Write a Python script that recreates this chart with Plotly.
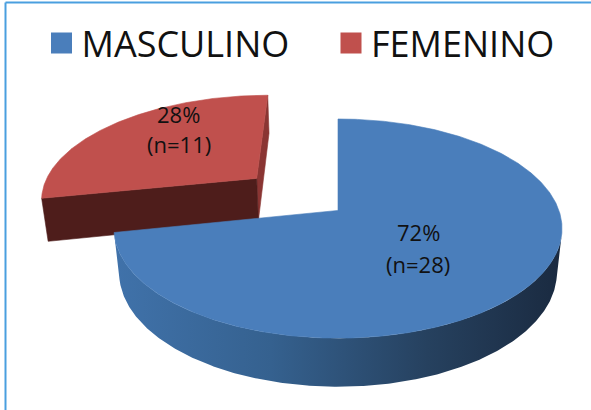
import numpy as np
import plotly.graph_objects as go

# ---------------- data ----------------
categories = ["MASCULINO", "FEMENINO"]
counts = [28, 11]

# ---------------- style / geometry constants ----------------
TOP_COLORS = ["#4a7ebb", "#c0504d"]
FACE_COLORS = ["#2c5082", "#4e1d1b"]      # front radial face colour
SLIVER_COLORS = ["#2c5082", "#8a3533"]    # back radial face colour
SIDE_SCALES = [
    [[0, "#4072aa"], [0.35, "#35618f"], [0.7, "#26415f"], [1, "#1a2a40"]],
    [[0, "#5a2220"], [1, "#3e1614"]],
]
EXPLODE = [0.0, 0.5]
LABEL_POS = [(418, 232, 264), (178.5, 113.5, 144)]  # x, y line1, y line2 (pixels)
LEGEND_X = [41.5, 331.0]                              # legend entry left positions (pixels)

EL = np.radians(31.0)   # elevation of the view
L = 5.3                 # camera distance (pie radius = 1)
H = 0.23                # pie thickness
S = 216.0               # pixels per unit
CX, CY = 338.0, 254.0   # screen position of the pie centre
W, HGT = 591, 410


def proj(X, Y, Z):
    X = np.asarray(X, float)
    Y = np.asarray(Y, float)
    Z = np.asarray(Z, float)
    d = L + Y * np.cos(EL) - Z * np.sin(EL)
    k = L / d
    sx = X * k
    sy = (Y * np.sin(EL) + Z * np.cos(EL)) * k
    return CX + S * sx, CY - S * sy


total = sum(counts)
slices = []
ang = 90.0
for i, c in enumerate(counts):
    sweep = 360.0 * c / total
    a0, a1 = ang - sweep, ang
    ang = a0
    mid = np.radians((a0 + a1) / 2)
    ex, ey = EXPLODE[i] * np.cos(mid), EXPLODE[i] * np.sin(mid)
    slices.append(dict(i=i, a0=np.radians(a0), a1=np.radians(a1), ex=ex, ey=ey))

cam = np.array([0.0, -L * np.cos(EL), L * np.sin(EL)])

fig = go.Figure()


def add_poly(xs, ys, color=None, gradient=None):
    xs = list(xs) + [xs[0]]
    ys = list(ys) + [ys[0]]
    kw = dict(x=xs, y=ys, mode="lines", fill="toself", line=dict(width=0.6, color=color or "rgba(0,0,0,0)"),
              hoverinfo="skip", showlegend=False)
    if gradient is not None:
        kw["fillgradient"] = dict(type="horizontal", colorscale=gradient)
        kw["line"] = dict(width=0)
    else:
        kw["fillcolor"] = color
    fig.add_trace(go.Scatter(**kw))


# draw farther slices first (exploded slice lies behind)
order = sorted(slices, key=lambda s: -s["ey"])
for s in order:
    i, a0, a1, ex, ey = s["i"], s["a0"], s["a1"], s["ex"], s["ey"]
    # radial faces
    for alpha, nrm in ((a0, (np.sin(a0), -np.cos(a0))), (a1, (-np.sin(a1), np.cos(a1)))):
        vis = ex * nrm[0] + (ey - cam[1]) * nrm[1]
        if vis < -1e-6:
            X = [ex, ex + np.cos(alpha), ex + np.cos(alpha), ex]
            Y = [ey, ey + np.sin(alpha), ey + np.sin(alpha), ey]
            Z = [H, H, 0, 0]
            px, py = proj(X, Y, Z)
            col = FACE_COLORS[i] if alpha == a1 else SLIVER_COLORS[i]
            add_poly(px, py, color=col)
    # curved side (visible part only)
    th = np.linspace(a0, a1, 600)
    visc = ex * np.cos(th) + (ey - cam[1]) * np.sin(th) + 1.0
    th = th[visc < 0]
    if len(th) > 1:
        X = np.concatenate([ex + np.cos(th), ex + np.cos(th[::-1])])
        Y = np.concatenate([ey + np.sin(th), ey + np.sin(th[::-1])])
        Z = np.concatenate([np.full(len(th), H), np.zeros(len(th))])
        px, py = proj(X, Y, Z)
        add_poly(px, py, gradient=SIDE_SCALES[i])
    # top face
    th = np.linspace(a0, a1, 400)
    X = np.concatenate([[ex], ex + np.cos(th)])
    Y = np.concatenate([[ey], ey + np.sin(th)])
    Z = np.full(len(X), H)
    px, py = proj(X, Y, Z)
    add_poly(px, py, color=TOP_COLORS[i])

# legend entries (one legend box per entry so spacing can match the original)
legend_style = dict(orientation="h", xanchor="left", y=1 - 43 / HGT, yanchor="middle",
                    font=dict(family="Open Sans", size=36, color="#111111"),
                    itemsizing="trace", bgcolor="rgba(0,0,0,0)", borderwidth=0)
for i, name in enumerate(categories):
    lg = "legend" if i == 0 else f"legend{i + 1}"
    fig.add_trace(go.Scatter(x=[None], y=[None], mode="markers", name=name, legend=lg,
                             marker=dict(symbol="square", size=16, color=TOP_COLORS[i],
                                         line=dict(width=5, color=TOP_COLORS[i]))))
    fig.update_layout({lg: dict(x=LEGEND_X[i] / W, **legend_style)})

# data labels
for i, c in enumerate(counts):
    pct = round(100 * c / total)
    x, y1, y2 = LABEL_POS[i]
    for txt, yy in ((f"{pct}%", y1), (f"(n={c})", y2)):
        fig.add_annotation(x=x, y=yy, xref="x", yref="y", text=txt, showarrow=False,
                           font=dict(family="Open Sans", size=22, color="#111111"),
                           xanchor="center", yanchor="middle")

# frame (top and left edges)
fig.add_shape(type="line", xref="paper", yref="paper", x0=5.5 / W, x1=1.0, y0=1 - 2.5 / HGT, y1=1 - 2.5 / HGT,
              line=dict(color="#4a9fdf", width=2))
fig.add_shape(type="line", xref="paper", yref="paper", x0=5.5 / W, x1=5.5 / W, y0=0, y1=1 - 2.5 / HGT,
              line=dict(color="#4a9fdf", width=2))

fig.update_layout(
    width=W, height=HGT, margin=dict(l=0, r=0, t=0, b=0, pad=0),
    paper_bgcolor="white", plot_bgcolor="white",
    xaxis=dict(range=[0, W], visible=False, fixedrange=True),
    yaxis=dict(range=[HGT, 0], visible=False, fixedrange=True),
    showlegend=True,
    font=dict(family="Open Sans"),
)

fig.write_html("out.html", config={"displayModeBar": False},
               post_script="document.body.style.margin='0';document.body.style.overflow='hidden';")
